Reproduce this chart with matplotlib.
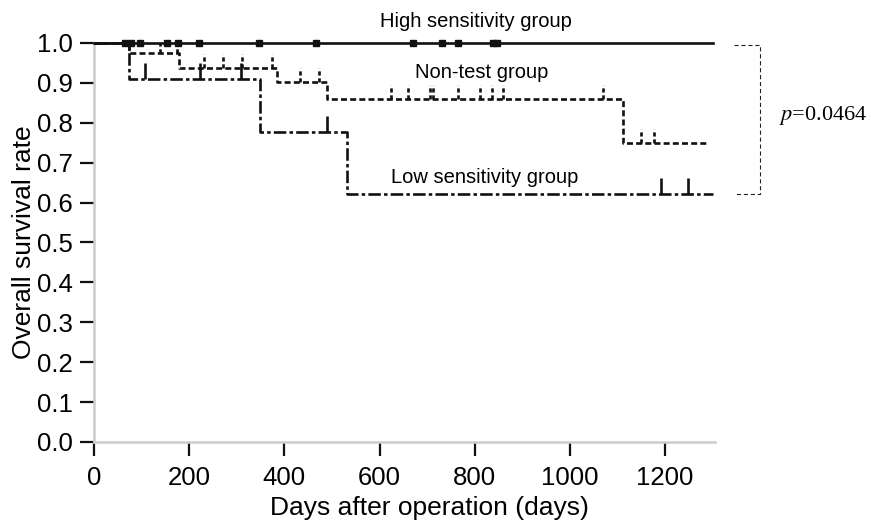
import numpy as np
import matplotlib
matplotlib.use("Agg")
import matplotlib.pyplot as plt

plt.rcParams['font.family'] = ['Liberation Sans', 'DejaVu Sans']
plt.rcParams['mathtext.fontset'] = 'stix'
plt.rcParams['lines.scale_dashes'] = False

# Kaplan-Meier steps (days, survival)
high_t = [0, 1300]
high_s = [1.0, 1.0]
high_cens = [65, 78, 97, 153, 177, 221, 347, 467, 670, 731, 765, 839, 847]

nt_t = [0, 74, 179, 385, 490, 1112, 1293]
nt_s = [1.0, 0.974, 0.938, 0.901, 0.860, 0.750, 0.750]
nt_cens = [139, 175, 231, 271, 311, 374, 433, 473, 624, 660, 706, 713,
           765, 811, 836, 860, 1070, 1150, 1177]

low_t = [0, 74, 349, 532, 1300]
low_s = [1.0, 0.910, 0.776, 0.621, 0.621]
low_cens = [107, 223, 309, 490, 1192, 1248]

xticks = [0, 200, 400, 600, 800, 1000, 1200]
yticks = [0.0, 0.1, 0.2, 0.3, 0.4, 0.5, 0.6, 0.7, 0.8, 0.9, 1.0]


def surv_at(times, surv, c):
    idx = np.searchsorted(times, c, side='right') - 1
    return np.array(surv)[idx]


fig = plt.figure(figsize=(8.71, 5.23), dpi=100)
ax = fig.add_axes([0.108, 0.155, 0.713, 0.763])

lw = 1.9
nt_dash = (4.3, 2.3)
lo_dash = (9, 2.3, 2.5, 2.3)
tick_h = 0.035

# high sensitivity: solid line with square censor marks
ax.step(high_t, high_s, where='post', color='#111111', lw=lw, clip_on=False, zorder=5)
ax.plot(high_cens, surv_at(high_t, high_s, high_cens), 's', color='#111111',
        ms=4, clip_on=False, zorder=6)

# non-test: dashed line with dashed upward ticks
ax.step(nt_t, nt_s, where='post', color='#111111', lw=lw, dashes=nt_dash,
        clip_on=False, zorder=4)
ys = surv_at(nt_t, nt_s, nt_cens)
ax.vlines(nt_cens, ys, ys + tick_h, color='#111111', lw=lw,
          linestyles=[(0, (3, 2))], zorder=4)

# low sensitivity: dash-dot line with solid upward ticks
ax.step(low_t, low_s, where='post', color='#111111', lw=lw, dashes=lo_dash,
        clip_on=False, zorder=4)
ys = surv_at(low_t, low_s, low_cens)
ax.vlines(low_cens, ys, ys + 0.04, color='#111111', lw=lw, zorder=4)

ax.text(803, 1.053, 'High sensitivity group', ha='center', va='center', fontsize=14.5)
ax.text(814, 0.926, 'Non-test group', ha='center', va='center', fontsize=14.5)
ax.text(820, 0.662, 'Low sensitivity group', ha='center', va='center', fontsize=14.5)

# bracket with p value
bx0, bx1 = 1345, 1399
ax.plot([bx0, bx1, bx1, bx0], [0.995, 0.995, 0.621, 0.621], color='#222222',
        lw=0.8, dashes=(3, 2), clip_on=False)
ax.text(1440, 0.818, r'$p$=0.0464', ha='left', va='center', fontsize=16,
        family='Liberation Serif')

ax.set_xlim(0, 1305)
ax.set_ylim(0, 1.0)
ax.set_xticks(xticks)
ax.set_yticks(yticks)
ax.set_yticklabels([f'{v:.1f}' for v in yticks])
ax.tick_params(axis='both', direction='out', length=10, width=1.6,
               color='#111111', labelsize=18.5)
ax.tick_params(axis='x', pad=7.5)
ax.tick_params(axis='y', pad=5.5)
for s in ['top', 'right']:
    ax.spines[s].set_visible(False)
for s in ['left', 'bottom']:
    ax.spines[s].set_color('#cccccc')
    ax.spines[s].set_linewidth(1.8)

ax.set_xlabel('Days after operation (days)', fontsize=19)
ax.set_ylabel('Overall survival rate', fontsize=19)
ax.xaxis.set_label_coords(0.54, -0.135)
ax.yaxis.set_label_coords(-0.094, 0.5)

fig.savefig('out.png', dpi=100)
